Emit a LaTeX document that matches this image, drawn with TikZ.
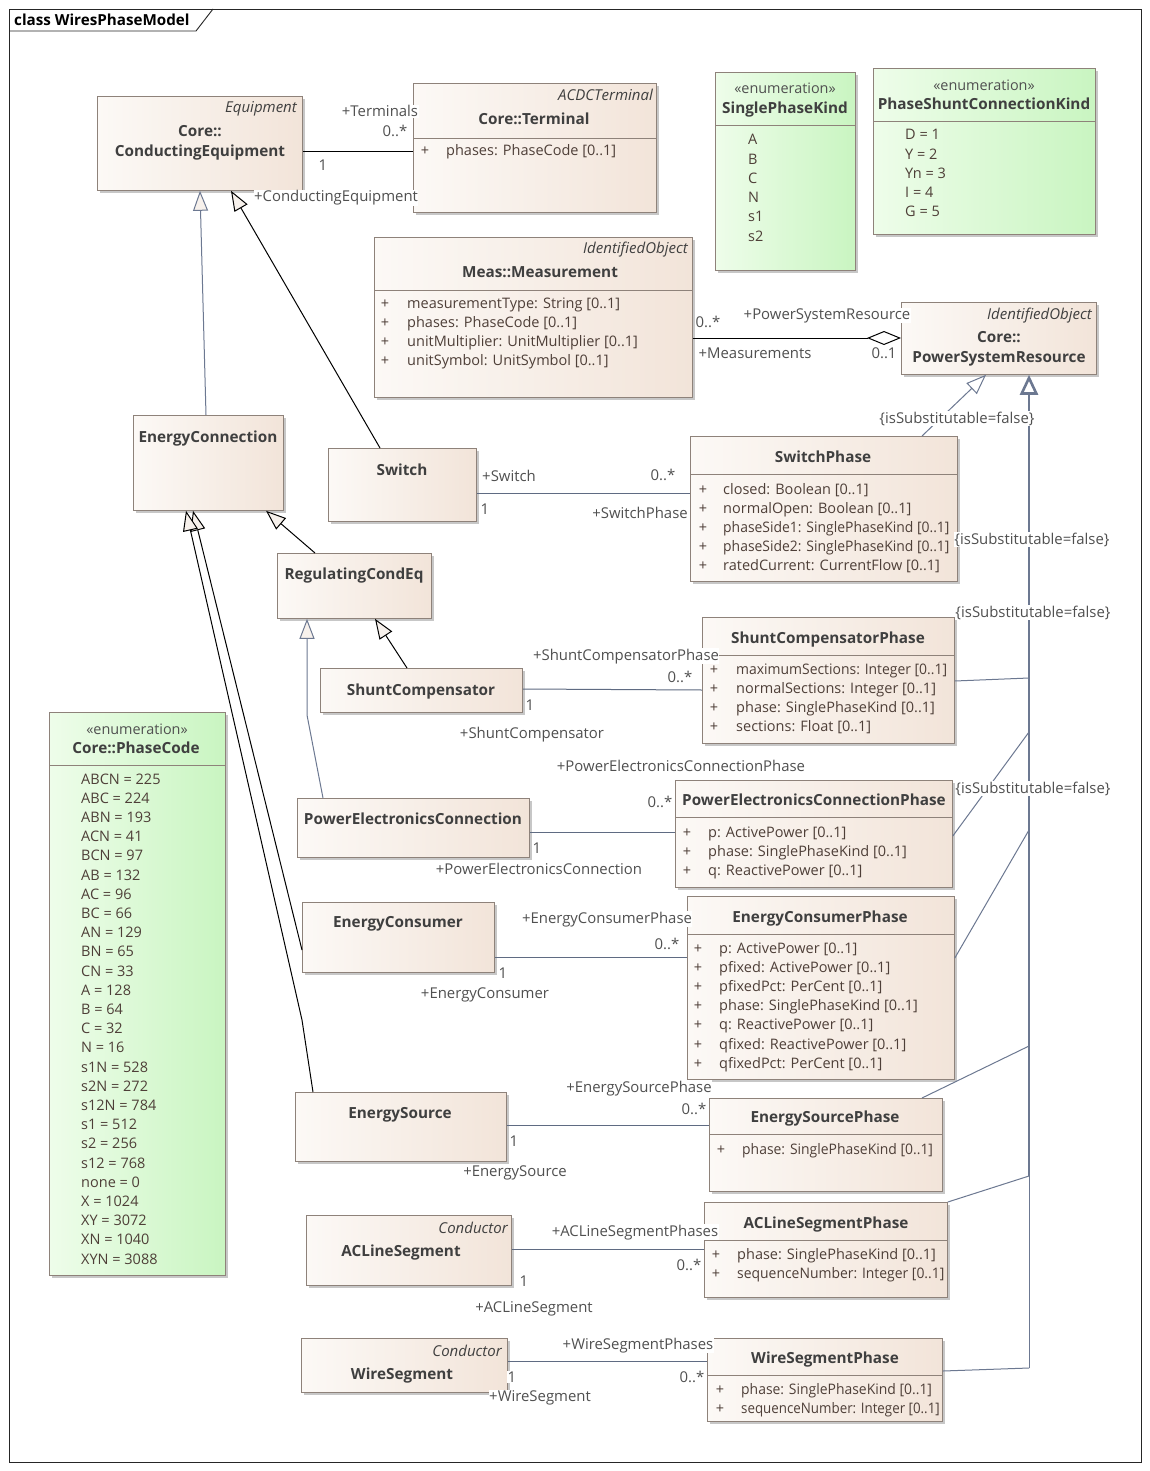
\documentclass[tikz,border=0pt]{standalone}
\usepackage{fontspec}
\setmainfont{Open Sans}
\newfontfamily\cnd[FakeStretch=0.96]{Open Sans}
\newfontfamily\cndd[FakeStretch=0.92]{Open Sans}
\usetikzlibrary{arrows.meta,shadows,calc}
\definecolor{clsL}{HTML}{FCF9F6}
\definecolor{clsR}{HTML}{F2E4D9}
\definecolor{enL}{HTML}{EEFDEA}
\definecolor{enR}{HTML}{C9F5C1}
\definecolor{bord}{HTML}{8E827A}
\definecolor{nameC}{HTML}{3F3F3F}
\definecolor{attrC}{HTML}{4E3F38}
\definecolor{lblC}{HTML}{505050}
\definecolor{genC}{HTML}{6C7891}
\definecolor{assC}{HTML}{5F6B82}
\definecolor{triL}{HTML}{F7F1EC}
\tikzset{
 boxbase/.style={draw=bord, line width=0.8pt, inner sep=0pt,
   drop shadow={shadow xshift=3pt, shadow yshift=-3pt, fill=black!22, opacity=1}},
 clsbox/.style={boxbase, left color=clsL, right color=clsR},
 enbox/.style={boxbase, left color=enL, right color=enR},
 sepline/.style={draw=bord, line width=0.8pt},
 cname/.style={font=\fontsize{15.3}{18}\selectfont\bfseries, text=nameC, inner sep=0pt},
 stereo/.style={font=\fontsize{15}{18}\selectfont\itshape, text=nameC, inner sep=0pt},
 enstereo/.style={font=\fontsize{14.4}{17}\selectfont, text=lblC, inner sep=0pt},
 attr/.style={font=\fontsize{14.5}{17}\selectfont, text=attrC, inner sep=0pt},
 lbl/.style={font=\fontsize{14.9}{17}\selectfont, text=lblC, fill=white, inner sep=0.5pt},
 assB/.style={draw=black, line width=1pt},
 assG/.style={draw=assC, line width=1pt},
 genB/.style={draw=black, line width=1pt, -{Triangle[length=20pt,width=15pt,fill=triL]}},
 genG/.style={draw=genC, line width=1pt, -{Triangle[length=20pt,width=15pt,fill=triL]}},
 genL/.style={draw=genC, line width=1pt, -{Triangle[length=20pt,width=15pt,fill=white]}},
 genT/.style={draw=genC, line width=2.6pt, -{Triangle[length=20pt,width=18pt,fill=white]}},
 phs/.style={draw=genC, line width=1pt},
}
\newcommand\ubox[6]{\node[#6, anchor=north west, minimum width={(#4-#2)*1pt}, minimum height={(#5-#3)*1pt}] (#1) at (#2,#3) {};}
\newcommand\usep[2]{\draw[sepline] (#1.west |- 0,#2) -- (#1.east |- 0,#2);}
\newcommand\ucname[4]{\node[cname, anchor=base] (#1) at (#2,{#3+5.5}) {#4};}
\newcommand\ustereo[4]{\node[stereo, anchor=base east] (#1) at (#2,{#3+5}) {#4};}
\newcommand\uenst[3]{\node[enstereo, anchor=base] (#1) at (#2,{#3+5}) {«enumeration»};}
\newcommand\uattrs[5]{\foreach \t [count=\i] in {#5} {
   \node[attr, anchor=base] (#1-p\i) at (#2,{#4+(\i-1)*19.2+5}) {+};
   \node[attr, anchor=base west] (#1-a\i) at (#3,{#4+(\i-1)*19.2+5}) {\t};}}
\newcommand\uitems[4]{\foreach \t [count=\i] in {#4} {
   \node[attr, anchor=base west] (#1-a\i) at (#2,{#3+(\i-1)*19.2+5}) {\t};}}
\newcommand\ulbl[4]{\node[lbl, anchor=base] (#1) at (#2,{#3+5}) {#4};}

\begin{document}
\begin{tikzpicture}[x=1pt,y=-1pt]
\useasboundingbox (0,0) rectangle (1149,1471);
\fill[white] (0,0) rectangle (1149,1471);
% frame
\draw[black!85, line width=0.9pt] (9,9) rectangle (1141,1462);
\draw[black!85, line width=0.9pt] (9,31) -- (196,31) -- (213,9);
\node[font=\fontsize{15.2}{18}\selectfont\bfseries, anchor=base west, inner sep=0pt] (title) at (14,25.5) {class WiresPhaseModel};

% ---------- boxes ----------
\ubox{ce}{97}{96}{302}{190}{clsbox}
\ubox{term}{413}{83}{656}{212}{clsbox}
\ubox{spk}{715}{72}{855}{270}{enbox}
\ubox{psck}{873}{68}{1095}{234}{enbox}
\ubox{meas}{374}{237}{692}{397}{clsbox}
\ubox{psr}{901}{302}{1096}{374}{clsbox}
\ubox{econn}{133}{415}{283}{510}{clsbox}
\ubox{sw}{328}{448}{476}{521}{clsbox}
\ubox{swp}{690}{436}{957}{581}{clsbox}
\ubox{rce}{277}{553}{431}{618}{clsbox}
\ubox{shc}{320}{668}{522}{712}{clsbox}
\ubox{scp}{702}{617}{954}{743}{clsbox}
\ubox{pec}{297}{798}{529}{857}{clsbox}
\ubox{pecp}{675}{780}{952}{887}{clsbox}
\ubox{econs}{302}{902}{494}{972}{clsbox}
\ubox{ecp}{687}{896}{954}{1079}{clsbox}
\ubox{es}{295}{1092}{506}{1161}{clsbox}
\ubox{esp}{709}{1098}{942}{1191}{clsbox}
\ubox{acls}{306}{1215}{511}{1285}{clsbox}
\ubox{aclsp}{704}{1202}{947}{1297}{clsbox}
\ubox{ws}{301}{1338}{507}{1392}{clsbox}
\ubox{wsp}{707}{1338}{942}{1421}{clsbox}
\ubox{pc}{49}{712}{225}{1275}{enbox}

% separators
\usep{term}{138}
\usep{spk}{125}
\usep{psck}{121}
\usep{meas}{290}
\usep{swp}{474}
\usep{scp}{655}
\usep{pecp}{817}
\usep{ecp}{934}
\usep{esp}{1134}
\usep{aclsp}{1240}
\usep{wsp}{1375}
\usep{pc}{765}

% ---------- names ----------
\ustereo{ce-s}{297}{108}{Equipment}
\ucname{ce-n1}{200}{131}{Core::}
\ucname{ce-n2}{200}{151}{ConductingEquipment}
\ustereo{term-s}{653}{96}{ACDCTerminal}
\ucname{term-n}{534}{119}{Core::Terminal}
\uenst{spk-s}{785}{89}
\ucname{spk-n}{785}{108}{SinglePhaseKind}
\uenst{psck-s}{984}{86}
\ucname{psck-n}{984}{104}{PhaseShuntConnectionKind}
\ustereo{meas-s}{688}{249}{IdentifiedObject}
\ucname{meas-n}{540}{272}{Meas::Measurement}
\ustereo{psr-s}{1092}{314}{IdentifiedObject}
\ucname{psr-n1}{999}{337}{Core::}
\ucname{psr-n2}{999}{357}{PowerSystemResource}
\ucname{econn-n}{208}{437}{EnergyConnection}
\ucname{sw-n}{402}{470}{Switch}
\ucname{swp-n}{823}{457}{SwitchPhase}
\ucname{rce-n}{354}{574}{RegulatingCondEq}
\ucname{shc-n}{421}{690}{ShuntCompensator}
\ucname{scp-n}{828}{638}{ShuntCompensatorPhase}
\ucname{pec-n}{413}{819}{PowerElectronicsConnection}
\ucname{pecp-n}{814}{800}{PowerElectronicsConnectionPhase}
\ucname{econs-n}{398}{922}{EnergyConsumer}
\ucname{ecp-n}{820}{917}{EnergyConsumerPhase}
\ucname{es-n}{400}{1113}{EnergySource}
\ucname{esp-n}{825}{1117}{EnergySourcePhase}
\ustereo{acls-s}{508}{1228}{Conductor}
\ucname{acls-n}{401}{1251}{ACLineSegment}
\ucname{aclsp-n}{826}{1223}{ACLineSegmentPhase}
\ustereo{ws-s}{502}{1351}{Conductor}
\ucname{ws-n}{402}{1374}{WireSegment}
\ucname{wsp-n}{825}{1358}{WireSegmentPhase}
\uenst{pc-s}{137}{729}
\ucname{pc-n}{136}{748}{Core::PhaseCode}

% ---------- attributes ----------
\uattrs{term}{425}{446}{151}{{phases: PhaseCode [0..1]}}
\uattrs{meas}{385}{407}{303}{{measurementType: String [0..1]},{phases: PhaseCode [0..1]},{unitMultiplier: UnitMultiplier [0..1]},{unitSymbol: UnitSymbol [0..1]}}
\uattrs{swp}{703}{723}{489}{{closed: Boolean [0..1]},{normalOpen: Boolean [0..1]},{{\cnd phaseSide1: SinglePhaseKind [0..1]}},{{\cnd phaseSide2: SinglePhaseKind [0..1]}},{ratedCurrent: CurrentFlow [0..1]}}
\uattrs{scp}{714}{736}{669}{{{\cnd maximumSections: Integer [0..1]}},{normalSections: Integer [0..1]},{phase: SinglePhaseKind [0..1]},{sections: Float [0..1]}}
\uattrs{pecp}{687}{708}{832}{{p: ActivePower [0..1]},{phase: SinglePhaseKind [0..1]},{q: ReactivePower [0..1]}}
\uattrs{ecp}{698}{719}{948}{{p: ActivePower [0..1]},{pfixed: ActivePower [0..1]},{pfixedPct: PerCent [0..1]},{phase: SinglePhaseKind [0..1]},{q: ReactivePower [0..1]},{qfixed: ReactivePower [0..1]},{qfixedPct: PerCent [0..1]}}
\uattrs{esp}{721}{742}{1149}{{{\cnd phase: SinglePhaseKind [0..1]}}}
\uattrs{aclsp}{716}{737}{1254}{{phase: SinglePhaseKind [0..1]},{{\cnd sequenceNumber: Integer [0..1]}}}
\uattrs{wsp}{720}{741}{1389}{{{\cnd phase: SinglePhaseKind [0..1]}},{{\cndd sequenceNumber: Integer [0..1]}}}
\uitems{spk}{748}{140}{A,B,C,N,s1,s2}
\uitems{psck}{905}{135}{{D = 1},{Y = 2},{Yn = 3},{I = 4},{G = 5}}
\uitems{pc}{81}{779}{{ABCN = 225},{ABC = 224},{ABN = 193},{ACN = 41},{BCN = 97},{AB = 132},{AC = 96},{BC = 66},{AN = 129},{BN = 65},{CN = 33},{A = 128},{B = 64},{C = 32},{N = 16},{s1N = 528},{s2N = 272},{s12N = 784},{s1 = 512},{s2 = 256},{s12 = 768},{none = 0},{X = 1024},{XY = 3072},{XN = 1040},{XYN = 3088}}

% ---------- associations ----------
\draw[assB] (ce.east |- 0,152) -- (term.west |- 0,152);
\draw[assB, -{Diamond[length=34pt,width=14pt,fill=white]}] (meas.east |- 0,338) -- (psr.west |- 0,338);
\draw[assG] (sw.east |- 0,493) -- (swp.west |- 0,493);
\draw[assG] (shc.east |- 0,689) -- (scp.west |- 0,690);
\draw[assG] (pec.east |- 0,832) -- (pecp.west |- 0,832);
\draw[assG] (econs.east |- 0,957) -- (ecp.west |- 0,957);
\draw[assG] (es.east |- 0,1125) -- (esp.west |- 0,1125);
\draw[assG] (acls.east |- 0,1249) -- (aclsp.west |- 0,1249);
\draw[assG] (ws.east |- 0,1361) -- (wsp.west |- 0,1361);

% ---------- generalizations ----------
\coordinate (b1) at (307,715);
\coordinate (b2) at (302,1020);
\draw[genG] (econn.north -| 206,0) -- (ce.south -| 200,0);
\draw[genB] (sw.north -| 380,0) -- (ce.south -| 231,0);
\draw[genB] (rce.north -| 315,0) -- (econn.south -| 266,0);
\draw[genB] (shc.north -| 407,0) -- (rce.south -| 375,0);
\draw[genG] (pec.north -| 323,0) -- (b1) -- (rce.south -| 307,0);
\draw[genB] (econs.west |- 0,950) -- (econn.south -| 193,0);
\draw[genB] (es.north -| 313,0) -- (b2) -- (econn.south -| 186,0);

% phases -> PowerSystemResource
\coordinate (j1) at (1029,678);
\coordinate (j2) at (1029,732);
\coordinate (j3) at (1029,830);
\coordinate (j4) at (1029,1046);
\coordinate (j5) at (1029,1176);
\coordinate (j6) at (1029,1368);
\draw[genL] (swp.north -| 922,0) -- (psr.south -| 986,0);
\draw[genC, line width=1pt] (j6) -- (j5);
\draw[genT] (j5) -- (psr.south -| 1029,0);
\draw[phs] (scp.east |- 0,681) -- (j1);
\draw[phs] (pecp.east |- 0,836) -- (j2);
\draw[phs] (ecp.east |- 0,958) -- (j3);
\draw[phs] (esp.north -| 922,0) -- (j4);
\draw[phs] (aclsp.north east) -- (j5);
\draw[phs] (wsp.east |- 0,1371) -- (j6);

% ---------- labels ----------
\ulbl{l1}{380}{112}{+Terminals}
\ulbl{l2}{395}{132}{0..*}
\ulbl{l3}{323}{166}{1}
\ulbl{l4}{336}{197}{+ConductingEquipment}
\ulbl{l5}{708}{322}{0..*}
\ulbl{l6}{827}{314}{+PowerSystemResource}
\ulbl{l7}{755}{353}{+Measurements}
\ulbl{l8}{884}{353}{0..1}
\ulbl{l9}{509}{476}{+Switch}
\ulbl{l10}{485}{509}{1}
\ulbl{l11}{663}{475}{0..*}
\ulbl{l12}{640}{513}{+SwitchPhase}
\ulbl{l13}{626}{655}{+ShuntCompensatorPhase}
\ulbl{l14}{680}{677}{0..*}
\ulbl{l15}{530}{705}{1}
\ulbl{l16}{532}{733}{+ShuntCompensator}
\ulbl{l17}{681}{766}{+PowerElectronicsConnectionPhase}
\ulbl{l18}{660}{802}{0..*}
\ulbl{l19}{537}{848}{1}
\ulbl{l20}{539}{869}{+PowerElectronicsConnection}
\ulbl{l21}{607}{918}{+EnergyConsumerPhase}
\ulbl{l22}{667}{944}{0..*}
\ulbl{l23}{503}{973}{1}
\ulbl{l24}{485}{993}{+EnergyConsumer}
\ulbl{l25}{639}{1087}{+EnergySourcePhase}
\ulbl{l26}{694}{1109}{0..*}
\ulbl{l27}{514}{1141}{1}
\ulbl{l28}{515}{1171}{+EnergySource}
\ulbl{l29}{635}{1231}{+ACLineSegmentPhases}
\ulbl{l30}{689}{1265}{0..*}
\ulbl{l31}{524}{1281}{1}
\ulbl{l32}{534}{1307}{+ACLineSegment}
\ulbl{l33}{638}{1344}{+WireSegmentPhases}
\ulbl{l34}{692}{1377}{0..*}
\ulbl{l35}{512}{1377}{1}
\ulbl{l36}{540}{1396}{+WireSegment}
\ulbl{s1}{957}{418}{\{isSubstitutable=false\}}
\ulbl{s2}{1032}{539}{\{isSubstitutable=false\}}
\ulbl{s3}{1033}{612}{\{isSubstitutable=false\}}
\ulbl{s4}{1033}{788}{\{isSubstitutable=false\}}
\end{tikzpicture}
\end{document}
